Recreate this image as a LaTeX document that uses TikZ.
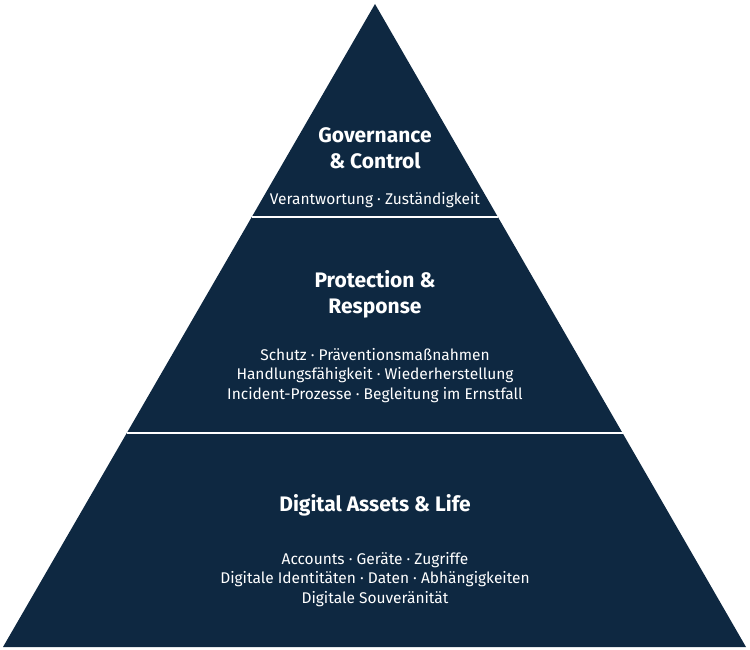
\documentclass[tikz,border=0pt]{standalone}
\usepackage{fontspec}
\setmainfont{Fira Sans}[Ligatures=NoCommon]
\usetikzlibrary{calc}
\definecolor{navy}{HTML}{0E2841}
\tikzset{
  ttl/.style={text=white,font=\fontsize{21}{26}\selectfont\bfseries,align=center,inner sep=0pt},
  sub/.style={text=white,font=\fontsize{15.5}{19.3}\selectfont,align=center,inner sep=0pt},
  sep/.style={draw=white,line width=2pt}
}
\begin{document}
\begin{tikzpicture}[x=1pt,y=-1pt]
\useasboundingbox (0,0) rectangle (750,650);
\coordinate (A) at (375,4);
\coordinate (BL) at (3,647);
\coordinate (BR) at (746,647);
\fill[navy] (A) -- (BR) -- (BL) -- cycle;
\coordinate (L1) at ($(A)!0.3313!(BL)$);
\coordinate (R1) at ($(A)!0.3313!(BR)$);
\coordinate (L2) at ($(A)!0.6672!(BL)$);
\coordinate (R2) at ($(A)!0.6672!(BR)$);
\draw[sep] (L1) -- (R1);
\draw[sep] (L2) -- (R2);
\node[ttl] (t1) at (375,148) {Governance\\\& Control};
\node[sub] (s1) at (375,200.5) {Verantwortung · Zuständigkeit};
\node[ttl] (t2) at (375,294.5) {Protection \&\\Response};
\node[sub] (s2) at (375,375.5) {Schutz · Präventionsmaßnahmen\\Handlungsfähigkeit · Wiederherstellung\\Incident-Prozesse · Begleitung im Ernstfall};
\node[ttl] (t3) at (375,505.5) {Digital Assets \& Life};
\node[sub] (s3) at (375,579.5) {Accounts · Geräte · Zugriffe\\Digitale Identitäten · Daten · Abhängigkeiten\\Digitale Souveränität};
\end{tikzpicture}
\end{document}
